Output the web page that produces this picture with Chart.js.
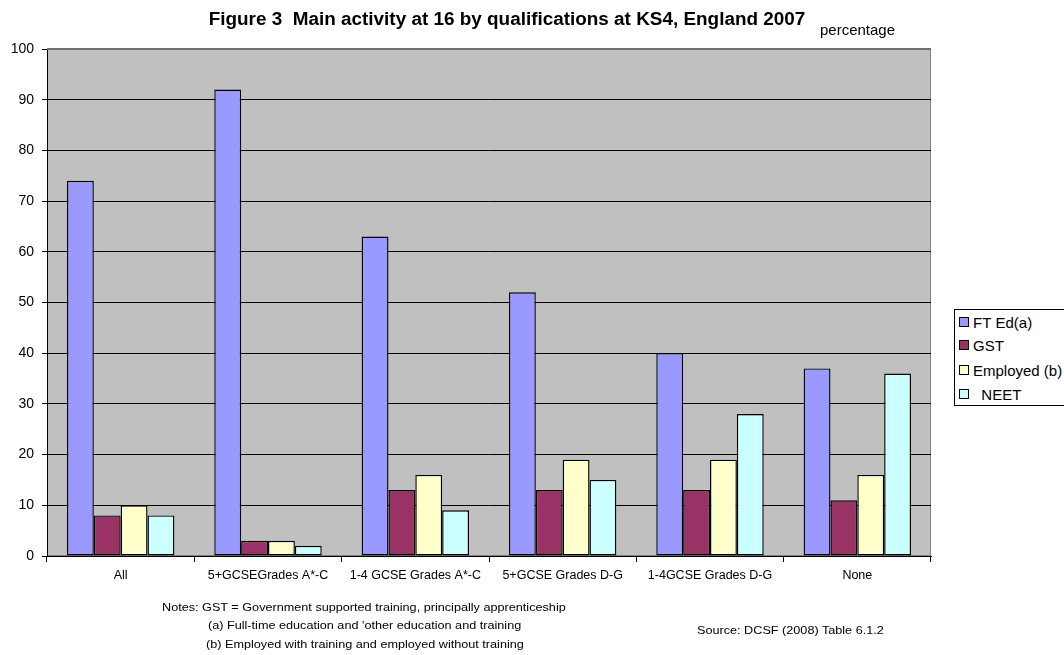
<!DOCTYPE html>
<html>
<head>
<meta charset="utf-8">
<script src="https://cdn.jsdelivr.net/npm/chart.js@4/dist/chart.umd.min.js"></script>
<style>
  body { margin: 0; background: #fff; font-family: Arial, "Liberation Sans", sans-serif; }
  #wrap { position: relative; width: 1064px; height: 655px; overflow: hidden; }
  #chart { position: absolute; left: 0; top: 0; }
  .txt { position: absolute; color: #000; white-space: nowrap; }
  .note { font-size: 11px; line-height: 13px; transform: scaleX(1.15); transform-origin: left center; }
  #legend { position: absolute; left: 954px; top: 309px; width: 130px; height: 95px;
            border: 1px solid #000; background: #fff; }
  .item { position: absolute; left: 4px; font-size: 15px; line-height: 18px; }
  .sw { display: inline-block; width: 8px; height: 8px; border: 1px solid #000; margin-right: 4px; vertical-align: 1px; }
</style>
</head>
<body>
<div id="wrap">
  <canvas id="chart" width="1064" height="655"></canvas>
  <div class="txt" style="left:0; width:1014px; top:10px; text-align:center; font-weight:bold; font-size:18px; line-height:18px; transform:scaleX(1.05); transform-origin:507px center;">Figure 3&nbsp; Main activity at 16 by qualifications at KS4, England 2007</div>
  <div class="txt" style="left:820px; top:22px; font-size:15px; line-height:15px;">percentage</div>
  <div id="legend"></div>
  <div class="txt note" style="left:162px; top:601px;">Notes: GST = Government supported training, principally apprenticeship</div>
  <div class="txt note" style="left:208px; top:619px;">(a) Full-time education and 'other education and training</div>
  <div class="txt note" style="left:206px; top:638px;">(b) Employed with training and employed without training</div>
  <div class="txt note" style="left:697px; top:624px;">Source: DCSF (2008) Table 6.1.2</div>
</div>
<script>
// categories and series (percentages)
const categories = ['All', '5+GCSEGrades A*-C', '1-4 GCSE Grades A*-C', '5+GCSE Grades D-G', '1-4GCSE Grades D-G', 'None'];
const ftEd = [74, 92, 63, 52, 40, 37];
const gst = [8, 3, 13, 13, 13, 11];
const employed = [10, 3, 16, 19, 19, 16];
const neet = [8, 2, 9, 15, 28, 36];
const seriesNames = ['FT Ed(a)', 'GST', 'Employed (b)', '  NEET'];
const seriesColors = ['#9999FF', '#993366', '#FFFFCC', '#CCFFFF'];

// legend (html)
const legend = document.getElementById('legend');
const itemTops = [4, 27, 52, 76];
seriesNames.forEach((name, i) => {
  const div = document.createElement('div');
  div.className = 'item';
  div.style.top = itemTops[i] + 'px';
  div.innerHTML = '<span class="sw" style="background:' + seriesColors[i] + '"></span>' + name.replace(/ /g, '&nbsp;');
  legend.appendChild(div);
});

// grey plot background
const plotBg = {
  id: 'plotBg',
  beforeDraw(chart) {
    const a = chart.chartArea;
    const ctx = chart.ctx;
    ctx.save();
    ctx.fillStyle = '#C0C0C0';
    ctx.fillRect(a.left, a.top, a.right - a.left, a.bottom - a.top);
    ctx.strokeStyle = '#808080';
    ctx.lineWidth = 1;
    ctx.strokeRect(a.left + 0.5, a.top + 0.5, a.right - a.left - 1, a.bottom - a.top - 1);
    ctx.restore();
  },
  afterDatasetsDraw(chart) {
    // darker top edge like the original
    const a = chart.chartArea;
    const ctx = chart.ctx;
    ctx.save();
    ctx.strokeStyle = '#707070';
    ctx.lineWidth = 2;
    ctx.beginPath();
    ctx.moveTo(a.left, a.top);
    ctx.lineTo(a.right, a.top);
    ctx.stroke();
    ctx.restore();
  }
};

const allSeries = [ftEd, gst, employed, neet];
new Chart(document.getElementById('chart'), {
  type: 'bar',
  data: {
    labels: categories,
    datasets: allSeries.map((vals, i) => ({
      label: seriesNames[i],
      data: vals,
      backgroundColor: seriesColors[i],
      borderColor: '#000',
      borderWidth: 1.4,
      borderSkipped: false,
      barPercentage: 1,
      categoryPercentage: 0.729
    }))
  },
  options: {
    responsive: false,
    animation: false,
    layout: { padding: { top: 49, right: 133, bottom: 59, left: 0 } },
    plugins: { legend: { display: false }, tooltip: { enabled: false } },
    scales: {
      x: {
        afterFit(scale) { scale.height = 40; },
        grid: { offset: true, drawOnChartArea: false, color: '#000', tickLength: 6 },
        border: { color: '#000', width: 1 },
        ticks: { color: '#000', font: { family: 'Arial, "Liberation Sans"', size: 12.5 }, padding: 6 }
      },
      y: {
        min: 0,
        max: 100,
        afterFit(scale) { scale.width = 47; },
        grid: { color: '#000', lineWidth: 1, tickLength: 5 },
        border: { color: '#000', width: 1 },
        ticks: { stepSize: 10, color: '#000', font: { family: 'Arial, "Liberation Sans"', size: 14 }, padding: 8 }
      }
    }
  },
  plugins: [plotBg]
});
</script>
</body>
</html>
